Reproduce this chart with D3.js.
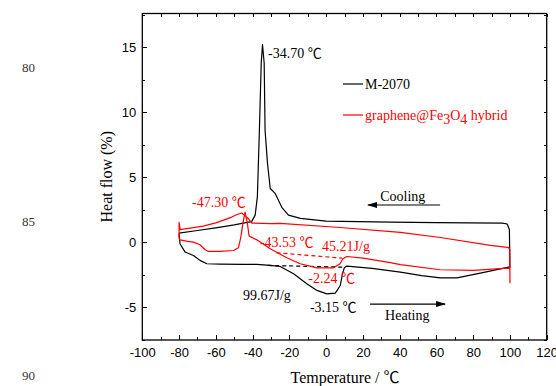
<!doctype html>
<html>

<head>
    <meta charset="utf-8">
    <title>DSC</title>
    <style>
    body {
        margin: 0;
        background: #fff;
    }

    .axis path {
        display: none;
    }

    .axis line {
        stroke: #000;
        shape-rendering: crispEdges;
    }

    .axis text {
        font: 13px "Liberation Sans", Arial, sans-serif;
        fill: #000;
    }

    .serif {
        font-family: "Liberation Serif", "Times New Roman", "Noto Sans CJK SC", serif;
    }
    </style>
    <script src="https://cdn.jsdelivr.net/npm/d3@7"></script>
</head>

<body>
    <script>
    // temperature (C), heat flow (%)
    var m2070Heat = [
        [-80, 0.72], [-79.5, -0.1], [-76.7, -0.74], [-72.2, -1.0], [-68.6, -1.38], [-64.9, -1.64],
        [-57.7, -1.66], [-45, -1.68], [-37.7, -1.69], [-30.4, -1.77], [-25, -1.85], [-17.7, -2.41],
        [-10.5, -3.18], [-5, -3.69], [0.4, -3.95], [5, -3.9], [7.7, -3.31], [8.9, -2.41], [9.9, -1.95],
        [11.3, -1.82], [25, -2.0], [40.4, -2.28], [52, -2.55], [62.1, -2.72], [71.2, -2.72],
        [83.9, -2.36], [99.3, -1.9], [100, -1.9]
    ];
    var m2070Cool = [
        [100, -1.9], [99.7, 1.0], [98.5, 1.42], [96, 1.48], [60, 1.52], [35, 1.56], [0, 1.64],
        [-14, 1.85], [-20.5, 2.1], [-24.1, 2.7], [-27.7, 3.77], [-30.4, 4.15], [-31.9, 6.1],
        [-33.2, 8.6], [-33.7, 13.8], [-34.6, 15.2], [-35.3, 13.8], [-36.3, 8.6], [-37.4, 3.5],
        [-38.6, 2.1], [-40.5, 1.6], [-42.2, 1.56], [-50, 1.35], [-60, 1.12], [-70, 0.92], [-80, 0.72]
    ];
    var hybridHeat = [
        [-80, 0.3], [-79.5, 0.2], [-76, 0.1], [-72.2, 0.02], [-68.6, -0.18], [-65.8, -0.56],
        [-64, -0.69], [-57.7, -0.69], [-50.4, -0.62], [-47.7, -0.41], [-46.4, 0.41], [-45.3, 1.44],
        [-44.1, 2.33], [-42.8, 1.44], [-41.9, 0.5], [-40, 0.35], [-37.7, 0.2], [-30.4, -0.48],
        [-21.4, -1.18], [-14.1, -1.64], [-5, -1.95], [4, -1.95], [7.6, -1.64], [9.1, -1.25],
        [11.3, -1.08], [20, -1.2], [34.9, -1.55], [40.4, -1.7], [62.1, -2.1], [80.3, -2.15],
        [98.5, -1.98], [100, -2.0], [100, -3.1]
    ];
    var hybridCool = [
        [100, -3.1], [99.9, -0.5], [99, -0.38], [97.5, -0.36], [89.4, -0.23], [62.1, 0.38],
        [40.4, 0.78], [7.6, 1.15], [-25, 1.46], [-30.4, 1.44], [-40.4, 1.49], [-42.2, 1.82],
        [-45.9, 2.26], [-48.5, 2.15], [-51.3, 1.95], [-60, 1.5], [-66.9, 1.25], [-79.4, 0.98],
        [-80, 1.54], [-80, 0.3]
    ];
    var m2070Base = [[-31.5, -1.77], [9.5, -1.9]];
    var hybridBase = [[-27, -0.8], [8.6, -1.2]];

    var xTicks = [-100, -80, -60, -40, -20, 0, 20, 40, 60, 80, 100, 120];
    var yTicks = [-5, 0, 5, 10, 15];

    // annotations: text, T, heat flow, colour
    var notes = [
        ["-34.70 \u2103", -31.6, 14.18, "#000"],
        ["-47.30 \u2103", -72.9, 2.72, "#f00"],
        ["-43.53 \u2103", -36, -0.35, "#f00"],
        ["45.21J/g", -2.2, -0.66, "#f00"],
        ["-2.24 \u2103", -9.7, -3.12, "#f00"],
        ["99.67J/g", -45.2, -4.43, "#000"],
        ["-3.15 \u2103", -8.8, -5.35, "#000"],
        ["Cooling", 29.4, 3.17, "#000"],
        ["Heating", 32.1, -5.95, "#000"]
    ];
    var arrows = [
        [62, 22.8, 2.88],
        [23.9, 64.7, -4.74]
    ];
    var sideNumbers = [["80", 66], ["85", 220], ["90", 374]];

    var W = 556, H = 386;
    var x = d3.scaleLinear().domain([-100, 120]).range([142.3, 546.7]);
    var y = d3.scaleLinear().domain([-7.5, 17.6]).range([340, 13.5]);

    var svg = d3.select("body").append("svg")
        .attr("width", W)
        .attr("height", H);

    var defs = svg.append("defs");
    defs.append("marker")
        .attr("id", "head")
        .attr("viewBox", "0 0 10 6")
        .attr("refX", 9).attr("refY", 3)
        .attr("markerWidth", 10).attr("markerHeight", 6)
        .attr("markerUnits", "userSpaceOnUse")
        .attr("orient", "auto")
        .append("path")
        .attr("d", "M0,0L10,3L0,6Z")
        .attr("fill", "#000");

    var x0 = x.range()[0], x1 = x.range()[1], y0 = y.range()[0], y1 = y.range()[1];
    var plain = function(d) { return String(d); };   // hyphen minus like the original

    // axes, ticks inward
    var xMinor = d3.range(-90, 120, 20);
    var yMinor = d3.range(-7.5, 17.6, 5);

    svg.append("g").attr("class", "axis")
        .attr("transform", "translate(0," + y0 + ")")
        .call(d3.axisBottom(x).tickValues(xTicks).tickSizeInner(-5).tickSizeOuter(0).tickPadding(8)
            .tickFormat(plain));
    svg.append("g").attr("class", "axis")
        .attr("transform", "translate(0," + y0 + ")")
        .call(d3.axisBottom(x).tickValues(xMinor).tickSizeInner(-3).tickSizeOuter(0).tickFormat(""));
    svg.append("g").attr("class", "axis")
        .attr("transform", "translate(0," + y1 + ")")
        .call(d3.axisTop(x).tickValues(xTicks.concat(xMinor)).tickSizeInner(-3).tickSizeOuter(0).tickFormat(""));

    svg.append("g").attr("class", "axis")
        .attr("transform", "translate(" + x0 + ",0)")
        .call(d3.axisLeft(y).tickValues(yTicks).tickSizeInner(-5).tickSizeOuter(0).tickPadding(6)
            .tickFormat(plain));
    svg.append("g").attr("class", "axis")
        .attr("transform", "translate(" + x0 + ",0)")
        .call(d3.axisLeft(y).tickValues(yMinor).tickSizeInner(-3).tickSizeOuter(0).tickFormat(""));
    svg.append("g").attr("class", "axis")
        .attr("transform", "translate(" + x1 + ",0)")
        .call(d3.axisRight(y).tickValues(yTicks.concat(yMinor)).tickSizeInner(-3).tickSizeOuter(0).tickFormat(""));

    svg.append("rect")
        .attr("x", x0).attr("y", y1)
        .attr("width", x1 - x0).attr("height", y0 - y1)
        .attr("fill", "none")
        .attr("stroke", "#000")
        .attr("stroke-width", 1.3);

    var line = d3.line()
        .x(function(d) { return x(d[0]); })
        .y(function(d) { return y(d[1]); });

    function curve(data, color, dash) {
        svg.append("path")
            .datum(data)
            .attr("d", line)
            .attr("fill", "none")
            .attr("stroke", color)
            .attr("stroke-width", 1.2)
            .attr("stroke-linejoin", "round")
            .attr("stroke-dasharray", dash || null);
    }

    curve(m2070Base, "#000", "4,3");
    curve(hybridBase, "#f00", "4,3");
    curve(m2070Heat.concat(m2070Cool), "#000");
    curve(hybridHeat.concat(hybridCool), "#f00");

    // legend
    var leg = [["M-2070", "#000", 84], ["hybrid", "#f00", 115]];
    leg.forEach(function(l) {
        svg.append("line")
            .attr("x1", 343).attr("x2", 363)
            .attr("y1", l[2]).attr("y2", l[2])
            .attr("stroke", l[1]).attr("stroke-width", 1.2);
    });
    svg.append("text").attr("class", "serif")
        .attr("x", 365).attr("y", 89)
        .attr("font-size", 14).attr("fill", "#000")
        .text("M-2070");
    var t2 = svg.append("text").attr("class", "serif")
        .attr("x", 365).attr("y", 120)
        .attr("font-size", 14).attr("fill", "#f00");
    t2.append("tspan").text("graphene@Fe");
    t2.append("tspan").attr("dy", 4).text("3");
    t2.append("tspan").attr("dy", -4).text("O");
    t2.append("tspan").attr("dy", 4).text("4");
    t2.append("tspan").attr("dy", -4).text(" hybrid");

    // annotations
    svg.selectAll(".note")
        .data(notes)
        .enter().append("text")
        .attr("class", "note serif")
        .attr("x", function(d) { return x(d[1]); })
        .attr("y", function(d) { return y(d[2]); })
        .attr("font-size", 14)
        .attr("fill", function(d) { return d[3]; })
        .text(function(d) { return d[0]; });

    svg.selectAll(".arrow")
        .data(arrows)
        .enter().append("line")
        .attr("class", "arrow")
        .attr("x1", function(d) { return x(d[0]); })
        .attr("x2", function(d) { return x(d[1]); })
        .attr("y1", function(d) { return y(d[2]); })
        .attr("y2", function(d) { return y(d[2]); })
        .attr("stroke", "#000")
        .attr("stroke-width", 1.2)
        .attr("marker-end", "url(#head)");

    // axis titles
    svg.append("text").attr("class", "serif")
        .attr("x", 345).attr("y", 383)
        .attr("text-anchor", "middle")
        .attr("font-size", 16)
        .text("Temperature /  \u2103");

    svg.append("text").attr("class", "serif")
        .attr("transform", "translate(112," + ((y0 + y1) / 2) + ") rotate(-90)")
        .attr("text-anchor", "middle")
        .attr("font-size", 16)
        .text("Heat flow (%)");

    // page line numbers at left
    svg.selectAll(".side")
        .data(sideNumbers)
        .enter().append("text")
        .attr("class", "side serif")
        .attr("x", 22)
        .attr("y", function(d) { return d[1] + 6; })
        .attr("font-size", 13)
        .attr("fill", "#333")
        .text(function(d) { return d[0]; });
    </script>
</body>

</html>
